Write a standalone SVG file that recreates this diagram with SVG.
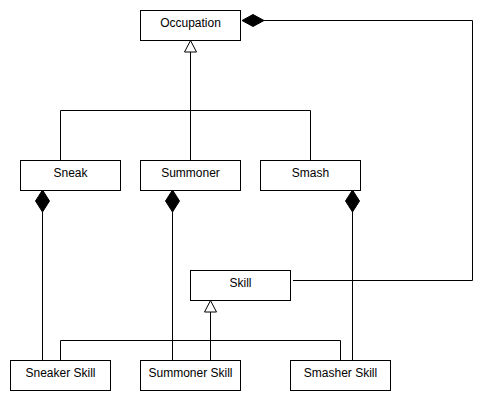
<svg xmlns="http://www.w3.org/2000/svg" width="502" height="400" viewBox="0 0 502 400">
<style>
.box{fill:#fff;stroke:#000;stroke-width:1}
.lbl{font-family:"Liberation Sans",Arial,sans-serif;font-size:12px;fill:#000;text-anchor:middle}
.ln{fill:none;stroke:#000;stroke-width:1}
.tri{fill:#fff;stroke:#000;stroke-width:1}
.dia{fill:#000;stroke:#000;stroke-width:1}
</style>
<rect width="502" height="400" fill="#fff"/>
<g id="connectors">
<path class="ln" d="M190.5 52 V110.5 M60.5 160 V110.5 H310.5 V160 M190.5 110.5 V160"/>
<polygon class="tri" points="190.5,40.5 184.5,52 196.5,52"/>
<path class="ln" d="M264 20.5 H472.5 V280.5 H293"/>
<polygon class="dia" points="242,20.5 253,14.5 264,20.5 253,26.5"/>
<path class="ln" d="M42.5 212 V360"/>
<polygon class="dia" points="42.5,190 49.5,201 42.5,212 35.5,201"/>
<path class="ln" d="M172.5 212 V360"/>
<polygon class="dia" points="172.5,190 179.5,201 172.5,212 165.5,201"/>
<path class="ln" d="M352.5 212 V360"/>
<polygon class="dia" points="352.5,190 359.5,201 352.5,212 345.5,201"/>
<path class="ln" d="M210.5 312 V360 M60.5 360 V340.5 H340.5 V360"/>
<polygon class="tri" points="210.5,300.5 204.5,312 216.5,312"/>
</g>
<g id="occupation"><rect class="box" x="140.5" y="10.5" width="100" height="30"/><text class="lbl" x="190.5" y="27">Occupation</text></g>
<g id="sneak"><rect class="box" x="20.5" y="160.5" width="100" height="30"/><text class="lbl" x="70.5" y="177">Sneak</text></g>
<g id="summoner"><rect class="box" x="140.5" y="160.5" width="100" height="30"/><text class="lbl" x="190.5" y="177">Summoner</text></g>
<g id="smash"><rect class="box" x="260.5" y="160.5" width="100" height="30"/><text class="lbl" x="310.5" y="177">Smash</text></g>
<g id="skill"><rect class="box" x="190.5" y="270.5" width="100" height="30"/><text class="lbl" x="240.5" y="287">Skill</text></g>
<g id="sneaker-skill"><rect class="box" x="10.5" y="360.5" width="100" height="30"/><text class="lbl" x="60.5" y="377">Sneaker Skill</text></g>
<g id="summoner-skill"><rect class="box" x="140.5" y="360.5" width="100" height="30"/><text class="lbl" x="190.5" y="377">Summoner Skill</text></g>
<g id="smasher-skill"><rect class="box" x="290.5" y="360.5" width="100" height="30"/><text class="lbl" x="340.5" y="377">Smasher Skill</text></g>
</svg>
